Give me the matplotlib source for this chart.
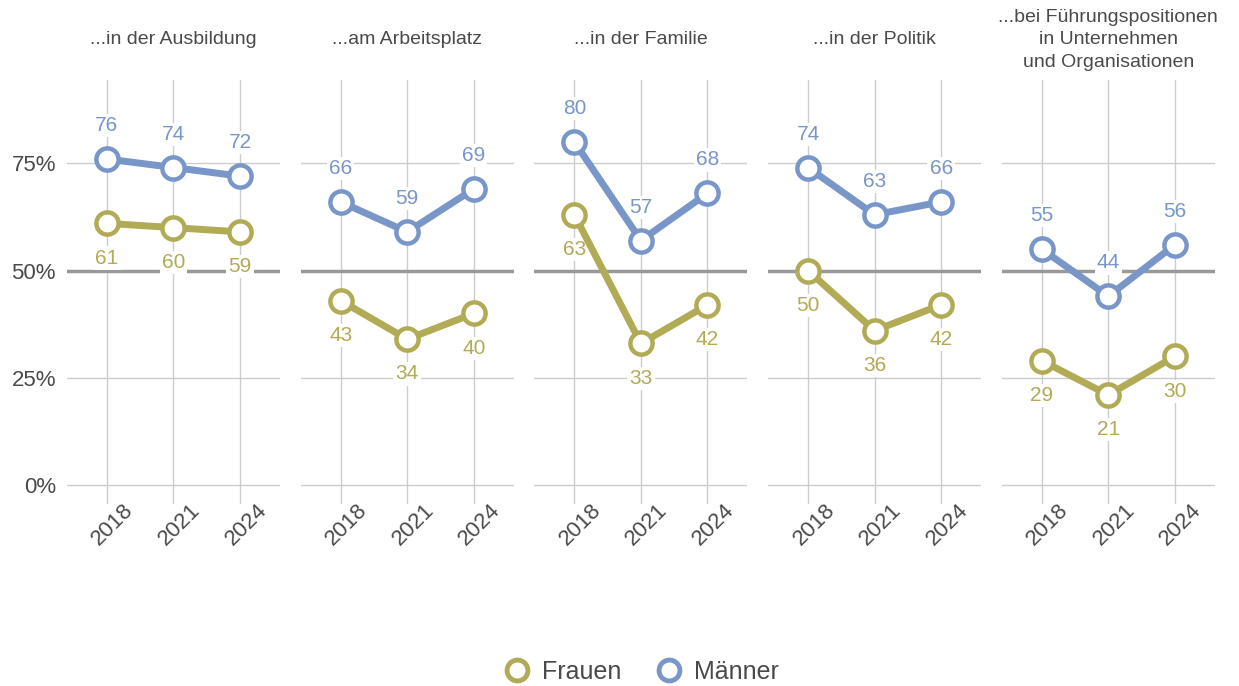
import matplotlib.pyplot as plt
import matplotlib.transforms as mtransforms
from matplotlib.lines import Line2D

plt.rcParams['font.family'] = ['Liberation Sans', 'DejaVu Sans']

# Daten
years = [2018, 2021, 2024]
titles = ['...in der Ausbildung', '...am Arbeitsplatz', '...in der Familie',
          '...in der Politik',
          '...bei Führungspositionen\nin Unternehmen\nund Organisationen']
frauen = [[61, 60, 59], [43, 34, 40], [63, 33, 42], [50, 36, 42], [29, 21, 30]]
maenner = [[76, 74, 72], [66, 59, 69], [80, 57, 68], [74, 63, 66], [55, 44, 56]]

c_frauen = '#B2AB55'
c_maenner = '#7896C8'
c_text = '#4a4a4a'
c_grid = '#cccccc'

fig = plt.figure(figsize=(12.39, 6.86), dpi=100)

left0 = 67 / 1239
w = 213 / 1239
step = 233.7 / 1239
bottom = 1 - 504 / 686
h = (504 - 80) / 686

for i in range(5):
    ax = fig.add_axes([left0 + i * step, bottom, w, h])
    ax.set_xlim(2016.2, 2025.8)
    ax.set_ylim(-4.4, 94.4)
    ax.set_yticks([0, 25, 50, 75])
    ax.set_xticks(years)
    ax.grid(True, color=c_grid, linewidth=1, zorder=0)
    ax.axhline(50, color='#999999', linewidth=2.5, zorder=2)
    for s in ax.spines.values():
        s.set_visible(False)
    ax.tick_params(length=0, colors=c_text, labelsize=16)
    ax.tick_params(axis='x', pad=-3)
    ax.tick_params(axis='y', pad=8)
    ax.set_xticklabels([str(y) for y in years], rotation=45, ha='center')
    shift = mtransforms.ScaledTranslation(6 / 100, 0, fig.dpi_scale_trans)
    for lab in ax.get_xticklabels():
        lab.set_transform(lab.get_transform() + shift)
    if i == 0:
        ax.set_yticklabels(['0%', '25%', '50%', '75%'])
    else:
        ax.set_yticklabels([])

    for vals, col, off in [(frauen[i], c_frauen, -25), (maenner[i], c_maenner, 24)]:
        ax.plot(years, vals, color=col, linewidth=5, marker='o', markersize=16,
                markerfacecolor='white', markeredgecolor=col,
                markeredgewidth=3.2, zorder=3, clip_on=False)
        for x, v in zip(years, vals):
            ax.annotate(str(v), (x, v), xytext=(0, off), textcoords='offset points',
                        ha='center', va='center', color=col, fontsize=15, zorder=2.5,
                        bbox=dict(boxstyle='square,pad=0.1', fc='white', ec='none'))

    ax.text(0.5, 1 + 40 / 424, titles[i], transform=ax.transAxes, ha='center',
            va='center', fontsize=14, color=c_text, linespacing=1.4)

handles = [Line2D([], [], linestyle='none', marker='o', markersize=15,
                  markerfacecolor='white', markeredgecolor=c, markeredgewidth=3.5)
           for c in (c_frauen, c_maenner)]
leg = fig.legend(handles, ['Frauen', 'Männer'], loc='center', ncol=2,
                 frameon=False, bbox_to_anchor=(0.513, 1 - 672 / 686), fontsize=18,
                 handletextpad=0.0, columnspacing=0.9)
for t in leg.get_texts():
    t.set_color(c_text)

fig.savefig('out.png', dpi=100)
